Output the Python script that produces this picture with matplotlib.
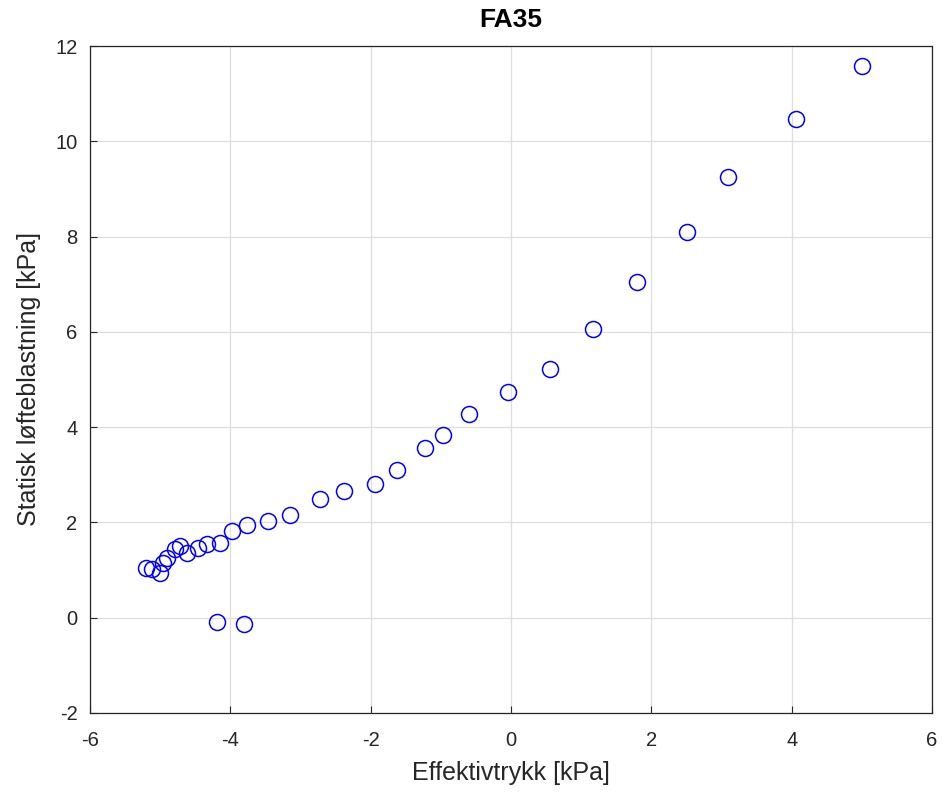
import matplotlib
matplotlib.use("Agg")
import matplotlib.pyplot as plt

x_vals = [-5.20, -5.11, -5.00, -4.96, -4.90, -4.79, -4.72, -4.62, -4.46, -4.33,
          -4.15, -3.97, -3.76, -3.46, -3.15, -2.72, -2.38, -1.94, -1.62, -1.23,
          -0.97, -0.60, -0.04, 0.56, 1.17, 1.79, 2.51, 3.09, 4.06, 5.00,
          -4.19, -3.80]
y_vals = [1.05, 1.03, 0.94, 1.15, 1.26, 1.45, 1.51, 1.36, 1.47, 1.55,
          1.57, 1.81, 1.95, 2.02, 2.16, 2.50, 2.67, 2.81, 3.11, 3.57,
          3.84, 4.28, 4.74, 5.23, 6.05, 7.05, 8.10, 9.24, 10.47, 11.57,
          -0.10, -0.13]

title = "FA35"
xlabel = "Effektivtrykk [kPa]"
ylabel = "Statisk løfteblastning [kPa]"

plt.rcParams['font.family'] = ['Liberation Sans', 'DejaVu Sans']
plt.rcParams['axes.unicode_minus'] = False

fig = plt.figure(figsize=(9.43, 7.98), dpi=100)
ax = fig.add_axes([90/943, 1 - 713/798, (932-90)/943, (713-46)/798])

ax.plot(x_vals, y_vals, linestyle='none', marker='o', markersize=11.5,
        markerfacecolor='none', markeredgecolor='#0000ff', markeredgewidth=1.1)

ax.set_xlim(-6, 6)
ax.set_ylim(-2, 12)
ax.set_xticks(range(-6, 7, 2))
ax.set_yticks(range(-2, 13, 2))
ax.grid(True, color='#dedede', linewidth=0.9)
ax.set_axisbelow(True)
for name, s in ax.spines.items():
    s.set_color('#262626')
    s.set_linewidth(0.9)
ax.tick_params(direction='in', length=5, colors='#262626', labelsize=14.5,
               top=False, right=False)
ax.tick_params(axis='x', pad=13)
ax.tick_params(axis='y', pad=9)
ax.set_xlabel(xlabel, fontsize=18, color='#262626', labelpad=8)
ax.set_ylabel(ylabel, fontsize=18, color='#262626', labelpad=10)
ax.set_title(title, fontsize=19, fontweight='bold', pad=14)

fig.savefig("out.png", dpi=100)
